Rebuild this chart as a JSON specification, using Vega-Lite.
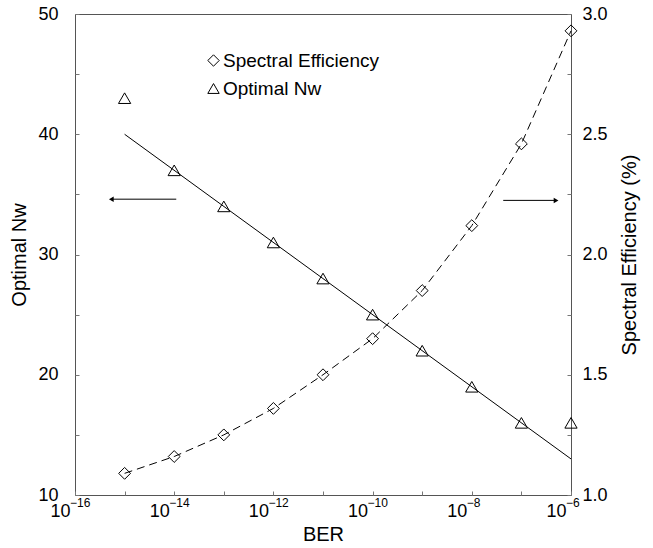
{
  "$schema": "https://vega.github.io/schema/vega-lite/v6.json",
  "width": 496,
  "height": 481,
  "autosize": {"type": "none"},
  "padding": {"left": 75, "top": 14, "right": 83, "bottom": 53},
  "background": "white",
  "config": {
    "font": "Liberation Sans",
    "view": {"stroke": "#555555", "strokeWidth": 1},
    "axis": {
      "grid": false,
      "domain": false,
      "tickColor": "#777777",
      "tickSize": 4,
      "offset": -4,
      "labelFontSize": 18,
      "labelColor": "black",
      "titleFontSize": 20,
      "titleFontWeight": "normal",
      "titleColor": "black",
      "labelFont": "Liberation Sans",
      "titleFont": "Liberation Sans"
    },
    "legend": {"labelFont": "Liberation Sans"}
  },
  "datasets": {
    "nw": [
      {"ber": 1e-15, "nw": 43, "series": "Optimal Nw"},
      {"ber": 1e-14, "nw": 37, "series": "Optimal Nw"},
      {"ber": 1e-13, "nw": 34, "series": "Optimal Nw"},
      {"ber": 1e-12, "nw": 31, "series": "Optimal Nw"},
      {"ber": 1e-11, "nw": 28, "series": "Optimal Nw"},
      {"ber": 1e-10, "nw": 25, "series": "Optimal Nw"},
      {"ber": 1e-9, "nw": 22, "series": "Optimal Nw"},
      {"ber": 1e-8, "nw": 19, "series": "Optimal Nw"},
      {"ber": 1e-7, "nw": 16, "series": "Optimal Nw"},
      {"ber": 1e-6, "nw": 16, "series": "Optimal Nw"}
    ],
    "fit": [
      {"ber": 1e-15, "nw": 40},
      {"ber": 1e-6, "nw": 13}
    ],
    "exps": [
      {"ber": 1e-16, "nw": 10, "exp": "−16"},
      {"ber": 1e-14, "nw": 10, "exp": "−14"},
      {"ber": 1e-12, "nw": 10, "exp": "−12"},
      {"ber": 1e-10, "nw": 10, "exp": "−10"},
      {"ber": 1e-8, "nw": 10, "exp": "−8"},
      {"ber": 1e-6, "nw": 10, "exp": "−6"}
    ],
    "se": [
      {"ber": 1e-15, "se": 1.09, "series": "Spectral Efficiency"},
      {"ber": 1e-14, "se": 1.16, "series": "Spectral Efficiency"},
      {"ber": 1e-13, "se": 1.25, "series": "Spectral Efficiency"},
      {"ber": 1e-12, "se": 1.36, "series": "Spectral Efficiency"},
      {"ber": 1e-11, "se": 1.50, "series": "Spectral Efficiency"},
      {"ber": 1e-10, "se": 1.65, "series": "Spectral Efficiency"},
      {"ber": 1e-9, "se": 1.85, "series": "Spectral Efficiency"},
      {"ber": 1e-8, "se": 2.12, "series": "Spectral Efficiency"},
      {"ber": 1e-7, "se": 2.46, "series": "Spectral Efficiency"},
      {"ber": 1e-6, "se": 2.93, "series": "Spectral Efficiency"}
    ],
    "arrowL": [{"ber": 5.4e-16, "ber2": 1.1e-14, "nw": 34.6}],
    "arrowR": [{"ber": 4.3e-8, "ber2": 5.0e-7, "se": 2.225}]
  },
  "layer": [
    {
      "layer": [
        {
          "data": {"name": "fit"},
          "mark": {"type": "line", "color": "black", "strokeWidth": 1},
          "encoding": {
            "x": {"field": "ber", "type": "quantitative", "scale": {"type": "log", "domain": [1e-16, 1e-6]},
              "title": "BER",
              "axis": {
                "values": [1e-16, 1e-15, 1e-14, 1e-13, 1e-12, 1e-11, 1e-10, 1e-9, 1e-8, 1e-7, 1e-6],
                "labelFlush": false,
                "labelPadding": 7,
                "labelAlign": "right",
                "labelOffset": -5,
                "titlePadding": 4,
                "labelExpr": "abs(round(log(datum.value)/LN10)) % 2 == 0 ? '10' : ''"
              }
            },
            "y": {"field": "nw", "type": "quantitative", "scale": {"domain": [10, 50]}, "title": "Optimal Nw",
              "axis": {"values": [10, 15, 20, 25, 30, 35, 40, 45, 50], "labelExpr": "datum.value % 10 == 0 ? datum.label : ''", "labelPadding": 17, "titlePadding": 8}}
          }
        },
        {
          "data": {"name": "exps"},
          "mark": {"type": "text", "align": "left", "baseline": "top", "dx": -5, "dy": 3, "fontSize": 12, "color": "black", "font": "Liberation Sans"},
          "encoding": {
            "x": {"field": "ber", "type": "quantitative", "scale": {"type": "log", "domain": [1e-16, 1e-6]}},
            "y": {"field": "nw", "type": "quantitative", "scale": {"domain": [10, 50]}},
            "text": {"field": "exp"}
          }
        },
        {
          "data": {"name": "nw"},
          "mark": {"type": "point", "filled": false, "color": "black", "strokeWidth": 1, "size": 150, "opacity": 1},
          "encoding": {
            "x": {"field": "ber", "type": "quantitative", "scale": {"type": "log", "domain": [1e-16, 1e-6]}},
            "y": {"field": "nw", "type": "quantitative", "scale": {"domain": [10, 50]}},
            "shape": {"field": "series", "type": "nominal",
              "scale": {"domain": ["Spectral Efficiency", "Optimal Nw"], "range": ["diamond", "triangle-up"]},
              "legend": {"title": null, "orient": "none", "legendX": 129, "legendY": 37, "labelFontSize": 19, "labelColor": "black", "symbolSize": 130, "symbolStrokeColor": "black", "symbolStrokeWidth": 1, "rowPadding": 8, "labelOffset": 0}
            }
          }
        },
        {
          "data": {"name": "arrowL"},
          "mark": {"type": "rule", "color": "black", "strokeWidth": 1},
          "encoding": {
            "x": {"field": "ber", "type": "quantitative", "scale": {"type": "log", "domain": [1e-16, 1e-6]}},
            "x2": {"field": "ber2"},
            "y": {"field": "nw", "type": "quantitative", "scale": {"domain": [10, 50]}}
          }
        },
        {
          "data": {"name": "arrowL"},
          "mark": {"type": "point", "shape": "triangle-left", "filled": true, "color": "black", "size": 30, "opacity": 1},
          "encoding": {
            "x": {"field": "ber", "type": "quantitative", "scale": {"type": "log", "domain": [1e-16, 1e-6]}},
            "y": {"field": "nw", "type": "quantitative", "scale": {"domain": [10, 50]}}
          }
        }
      ]
    },
    {
      "layer": [
        {
          "data": {"name": "se"},
          "mark": {"type": "line", "color": "black", "strokeWidth": 1, "strokeDash": [8, 5]},
          "encoding": {
            "x": {"field": "ber", "type": "quantitative", "scale": {"type": "log", "domain": [1e-16, 1e-6]}},
            "y": {"field": "se", "type": "quantitative", "scale": {"domain": [1, 3]}, "title": "Spectral Efficiency (%)",
              "axis": {"orient": "right", "values": [1, 1.25, 1.5, 1.75, 2, 2.25, 2.5, 2.75, 3], "labelExpr": "datum.value * 2 % 1 == 0 ? format(datum.value, '.1f') : ''", "labelPadding": 11, "titlePadding": 32, "titleAngle": 270}}
          }
        },
        {
          "data": {"name": "se"},
          "mark": {"type": "point", "filled": false, "color": "black", "strokeWidth": 1, "size": 140, "opacity": 1},
          "encoding": {
            "x": {"field": "ber", "type": "quantitative", "scale": {"type": "log", "domain": [1e-16, 1e-6]}},
            "y": {"field": "se", "type": "quantitative", "scale": {"domain": [1, 3]}},
            "shape": {"field": "series", "type": "nominal"}
          }
        },
        {
          "data": {"name": "arrowR"},
          "mark": {"type": "rule", "color": "black", "strokeWidth": 1},
          "encoding": {
            "x": {"field": "ber", "type": "quantitative", "scale": {"type": "log", "domain": [1e-16, 1e-6]}},
            "x2": {"field": "ber2"},
            "y": {"field": "se", "type": "quantitative", "scale": {"domain": [1, 3]}}
          }
        },
        {
          "data": {"name": "arrowR"},
          "mark": {"type": "point", "shape": "triangle-right", "filled": true, "color": "black", "size": 30, "opacity": 1},
          "encoding": {
            "x": {"field": "ber2", "type": "quantitative", "scale": {"type": "log", "domain": [1e-16, 1e-6]}},
            "y": {"field": "se", "type": "quantitative", "scale": {"domain": [1, 3]}}
          }
        }
      ]
    }
  ],
  "resolve": {"scale": {"y": "independent"}}
}
